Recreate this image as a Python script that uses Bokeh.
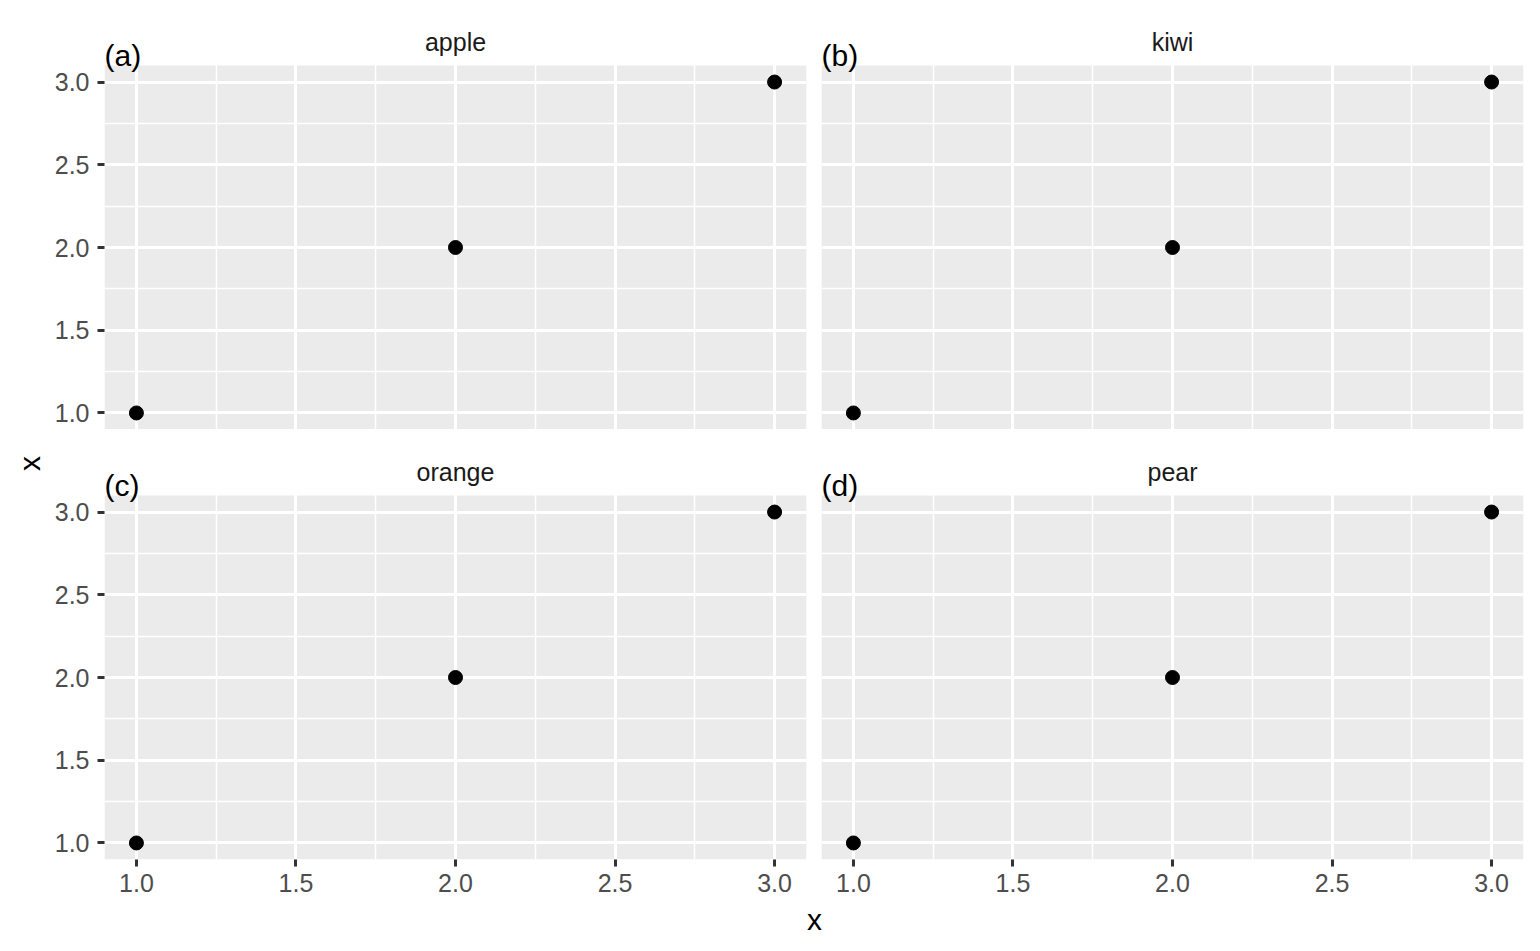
import math
from bokeh.plotting import figure
from bokeh.layouts import row, column
from bokeh.models import FixedTicker, Range1d, NumeralTickFormatter
from bokeh.core.properties import value
from bokeh.embed import file_html
from bokeh.resources import INLINE

# ---------------- data ----------------
facets = ["apple", "kiwi", "orange", "pear"]
tags = ["(a)", "(b)", "(c)", "(d)"]
x_values = [1, 2, 3]
y_apple = [1, 2, 3]
y_kiwi = [1, 2, 3]
y_orange = [1, 2, 3]
y_pear = [1, 2, 3]
tick_values = [1.0, 1.5, 2.0, 2.5, 3.0]
tick_labels = ["1.0", "1.5", "2.0", "2.5", "3.0"]
minor_values = [1.25, 1.75, 2.25, 2.75]
x_title = "x"
y_title = "x"

series = [y_apple, y_kiwi, y_orange, y_pear]

# ---------------- style ----------------
FONT = "Liberation Sans"
PANEL_W = 702
PANEL_H = 364
PANEL_BG = "#EBEBEB"
TICK_FS = 25
STRIP_FS = 25
TAG_FS = 30
TITLE_FS = 30
BASE_SHIFT = 0.36  # rendered baseline offset (em) of the svg text

all_y = [v for s in series for v in s]
xlo0, xhi0 = min(x_values), max(x_values)
ylo0, yhi0 = min(all_y), max(all_y)
xlo = xlo0 - 0.05 * (xhi0 - xlo0)
xhi = xhi0 + 0.05 * (xhi0 - xlo0)
ylo = ylo0 - 0.05 * (yhi0 - ylo0)
yhi = yhi0 + 0.05 * (yhi0 - ylo0)
ppu_y = PANEL_H / (yhi - ylo)


def make_panel(name, tag, ys, left, bottom, strip_px, mbl, mbr, mbb):
    ytop = ylo + (PANEL_H + strip_px) / ppu_y
    p = figure(
        frame_width=PANEL_W, frame_height=PANEL_H + strip_px,
        x_range=Range1d(xlo, xhi), y_range=Range1d(ylo, ytop),
        x_axis_location="below" if bottom else None,
        y_axis_location="left" if left else None,
        toolbar_location=None, output_backend="svg",
        min_border_left=mbl, min_border_right=mbr,
        min_border_top=0, min_border_bottom=mbb,
        outline_line_color=None,
        background_fill_color="white", border_fill_color="white",
    )
    r = p.quad(left=[xlo], right=[xhi], bottom=[ylo], top=[yhi],
               fill_color=PANEL_BG, line_color=None)
    r.level = "image"

    for g in (p.xgrid, p.ygrid):
        g.ticker = FixedTicker(ticks=tick_values, minor_ticks=minor_values)
        g.grid_line_color = "white"
        g.grid_line_width = 3
        g.minor_grid_line_color = "white"
        g.minor_grid_line_width = 1.5

    for ax, standoff in ((p.xaxis, 7), (p.yaxis, 8)):
        ax.ticker = FixedTicker(ticks=tick_values, minor_ticks=[])
        ax.formatter = NumeralTickFormatter(format="0.0")
        ax.major_label_overrides = dict(zip(tick_values, tick_labels))
        ax.axis_line_color = None
        ax.major_tick_line_color = "#333333"
        ax.major_tick_line_width = 3
        ax.major_tick_out = 7
        ax.major_tick_in = 0
        ax.minor_tick_line_color = None
        ax.major_label_text_font = FONT
        ax.major_label_text_font_size = f"{TICK_FS}px"
        ax.major_label_text_color = "#4D4D4D"
        ax.major_label_standoff = standoff

    p.scatter(x_values, ys, size=14, color="black")

    # strip title (baseline 14.5px above the panel)
    p.text(x=[(xlo + xhi) / 2],
           y=[yhi + (14.5 + BASE_SHIFT * STRIP_FS) / ppu_y], text=[name],
           text_font=value(FONT), text_font_size=f"{STRIP_FS}px",
           text_color="#1A1A1A", text_align="center", text_baseline="alphabetic")
    # tag (baseline at the panel top)
    p.text(x=[xlo], y=[yhi + (BASE_SHIFT * TAG_FS - 0.5) / ppu_y], text=[tag],
           text_font=value(FONT), text_font_size=f"{TAG_FS}px", text_color="black",
           text_align="left", text_baseline="alphabetic")
    return p


TOP_STRIP = 65
BOT_STRIP = 66
BOT_BORDER = 41
LEFT_B = 54

pa = make_panel(facets[0], tags[0], series[0], True, False, TOP_STRIP, LEFT_B, 8, 0)
pb = make_panel(facets[1], tags[1], series[1], False, False, TOP_STRIP, 7, 9, 0)
pc = make_panel(facets[2], tags[2], series[2], True, True, BOT_STRIP, LEFT_B, 8, BOT_BORDER)
pd = make_panel(facets[3], tags[3], series[3], False, True, BOT_STRIP, 7, 9, BOT_BORDER)

grid_h = (PANEL_H + TOP_STRIP) + (PANEL_H + BOT_STRIP + BOT_BORDER)
YL_W = 50


def blank(w, h):
    f = figure(width=w, height=h, x_range=Range1d(0, w), y_range=Range1d(0, h),
               x_axis_location=None, y_axis_location=None,
               toolbar_location=None, output_backend="svg",
               min_border=0, outline_line_color=None,
               background_fill_color="white", border_fill_color="white")
    f.xgrid.visible = False
    f.ygrid.visible = False
    return f


ylab = blank(YL_W, grid_h)
ylab.text(x=[40 - BASE_SHIFT * TITLE_FS], y=[grid_h - 463], text=[y_title],
          angle=math.pi / 2,
          text_font=value(FONT), text_font_size=f"{TITLE_FS}px", text_color="black",
          text_align="center", text_baseline="alphabetic")

XL_H = 48
total_w = YL_W + (LEFT_B + PANEL_W + 8) + (7 + PANEL_W + 9)
xlab = blank(total_w, XL_H)
xlab.text(x=[814], y=[XL_H - (930 - grid_h - BASE_SHIFT * TITLE_FS)], text=[x_title],
          text_font=value(FONT), text_font_size=f"{TITLE_FS}px", text_color="black",
          text_align="center", text_baseline="alphabetic")

layout = column(row(ylab, column(pa, pc), column(pb, pd)), xlab)

open("out.html", "w").write(file_html(layout, INLINE))
